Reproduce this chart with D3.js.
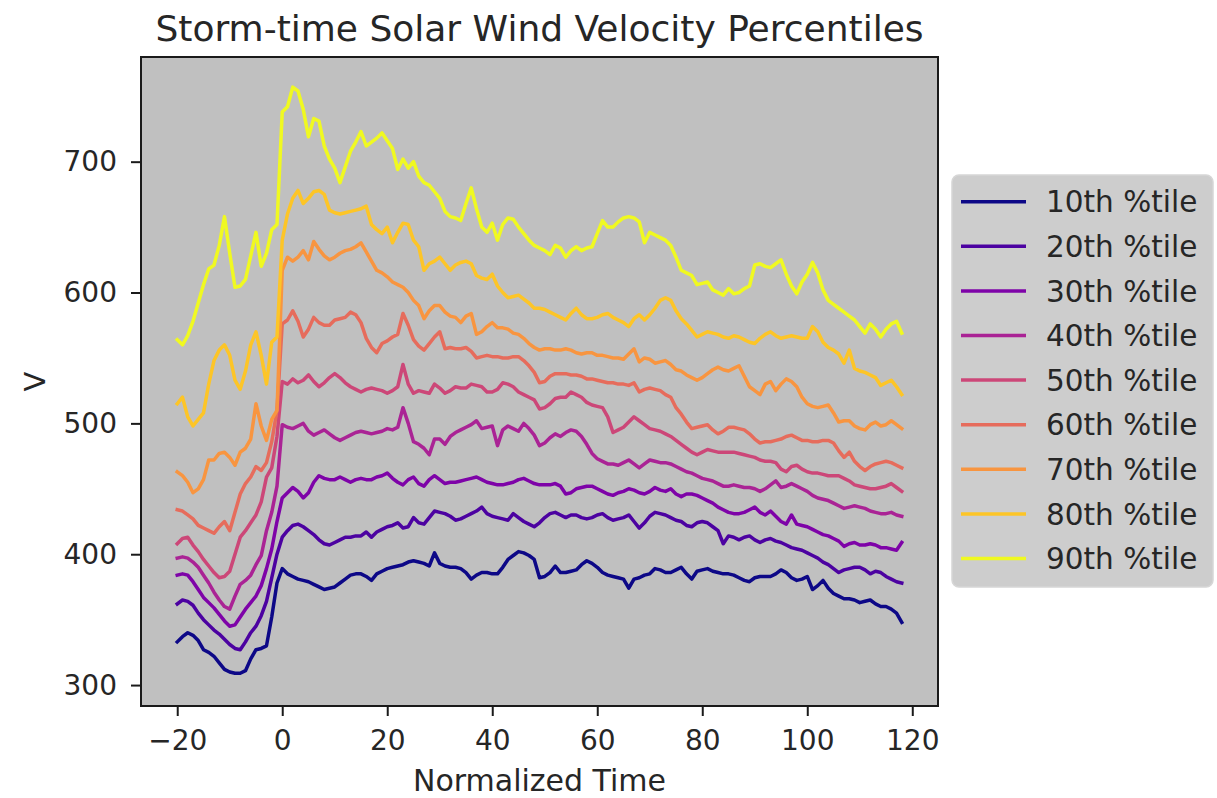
<!DOCTYPE html>
<html>
<head>
<meta charset="utf-8">
<script src="https://cdn.jsdelivr.net/npm/d3@7"></script>
<style>
  html, body { margin: 0; padding: 0; background: #ffffff; }
  svg { display: block; }
  text { font-family: "DejaVu Sans", sans-serif; fill: #262626; }
</style>
</head>
<body>
<svg id="chart" width="1217" height="798"></svg>
<script>
// ---------------- data ----------------
const tStart = -20; // normalized time of the first sample, step 1
const seriesNames = ["10th %tile","20th %tile","30th %tile","40th %tile","50th %tile","60th %tile","70th %tile","80th %tile","90th %tile"];
const xTicks = [-20, 0, 20, 40, 60, 80, 100, 120];
const yTicks = [300, 400, 500, 600, 700];

const p10 = [333,337,340,338,334,327,325,322,317,312,310,309,309,311,320,327,328,330,352,378,
389,385,383,381,380,379,377,375,373,374,375,378,381,384,385,385,383,380,385,387,
389,390,391,392,394,395,394,393,391,401,393,391,390,390,389,386,381,384,386,386,
385,385,390,396,399,402,401,399,396,382,383,386,391,386,386,387,388,392,395,393,
390,386,384,383,382,381,374,381,382,384,385,389,388,386,386,388,390,385,381,387,
388,389,387,386,385,385,384,382,380,379,382,383,383,383,385,388,386,382,380,381,
383,373,376,380,374,370,368,366,366,365,363,364,365,362,360,360,358,355,348];

const p20 = [362,365,364,361,355,350,346,342,339,335,331,328,327,333,340,345,353,364,382,400,
413,418,422,423,421,418,415,411,408,407,409,411,413,413,414,414,417,413,417,419,
421,422,424,420,421,428,424,423,428,433,432,431,429,426,427,429,431,433,436,431,
429,428,427,426,431,428,425,423,421,424,428,431,432,430,428,430,430,428,427,428,
430,431,428,426,427,428,430,425,420,424,429,432,431,430,428,426,425,422,421,424,
425,424,421,418,408,414,413,411,413,414,411,409,411,412,410,409,407,405,404,403,
401,399,397,394,392,389,386,388,389,390,390,388,385,387,386,383,381,379,378];

const p30 = [384,385,384,379,373,367,363,359,354,349,345,346,352,358,363,368,376,389,404,425,
443,447,451,448,443,447,455,460,458,457,457,459,457,455,457,458,457,457,459,460,
462,458,455,453,457,459,454,452,457,460,457,454,455,455,456,457,458,459,457,455,
454,453,453,454,455,457,458,456,454,453,453,453,454,452,446,447,450,451,452,452,
450,448,446,445,447,448,450,449,447,446,448,451,449,448,450,446,444,446,446,445,
443,441,439,436,434,432,431,431,432,434,436,432,430,433,429,425,423,430,423,422,
421,419,417,415,414,412,410,406,408,409,407,407,408,407,405,405,404,403,409];

const p40 = [397,398,397,394,390,384,378,371,365,360,358,368,377,380,384,392,399,418,432,452,
499,497,496,498,500,494,491,493,495,492,489,487,489,491,493,494,493,492,493,494,
496,495,497,512,500,486,484,481,476,488,488,484,490,493,495,497,499,502,496,497,
498,483,495,498,496,494,500,496,491,483,485,489,492,490,493,495,494,490,484,477,
473,471,469,469,468,470,472,469,466,469,472,471,470,470,469,467,465,463,462,460,
458,457,456,454,452,452,453,452,451,451,450,448,450,453,456,451,452,454,452,450,
448,445,443,442,441,439,437,435,436,437,436,435,433,432,431,431,432,430,429];

const p50 = [408,412,413,407,402,396,391,386,382,383,387,400,413,418,424,430,440,459,466,490,
532,530,534,531,533,537,532,528,531,535,538,535,531,528,526,524,526,527,526,525,
523,525,528,545,530,523,525,524,523,530,527,523,525,528,527,527,530,529,528,524,
524,526,531,530,528,524,522,520,518,511,512,515,519,520,520,524,522,520,516,514,
513,512,505,493,495,497,501,505,502,499,496,495,494,492,490,487,484,481,478,476,
478,480,479,478,478,478,478,477,476,475,474,472,471,471,470,465,463,467,468,465,
463,462,462,461,460,460,460,458,456,453,452,451,450,450,451,452,454,451,448];

const p60 = [434,433,430,427,422,420,418,416,421,425,418,432,446,454,459,467,464,470,486,510,
576,579,586,578,566,572,581,577,575,575,579,580,581,585,583,577,565,558,554,561,
563,566,568,584,575,564,559,556,561,566,570,557,558,557,557,558,555,550,551,552,
551,551,550,550,551,551,548,544,539,531,532,536,538,538,538,537,537,536,534,534,
533,532,531,531,530,530,529,531,524,526,527,526,525,522,520,512,507,501,496,497,
498,499,495,492,494,497,497,496,495,492,488,485,486,486,487,488,490,491,489,487,
487,486,486,487,487,485,479,474,478,471,467,464,467,469,470,471,470,468,466];

const p70 = [463,460,455,447,450,457,472,472,477,478,474,468,478,481,488,515,498,487,503,510,
617,627,624,627,632,625,639,633,628,625,627,630,632,633,635,638,631,624,617,615,
612,608,606,604,600,594,590,580,586,590,590,585,582,581,577,582,584,568,570,574,
577,573,573,572,569,568,565,561,558,556,557,557,556,556,557,556,554,553,554,554,
552,552,551,550,550,549,553,557,547,550,549,546,547,548,545,541,540,537,535,533,
535,538,541,543,541,540,542,544,536,528,525,522,530,532,525,530,534,532,528,520,
515,513,512,513,514,508,501,502,502,498,496,495,499,501,498,499,502,499,496];

const p80 = [515,520,505,498,503,508,530,548,556,560,552,533,526,540,560,570,552,530,562,566,
640,660,672,678,668,672,677,678,675,663,661,660,661,662,663,664,666,652,648,645,
650,638,646,653,652,640,635,617,622,624,627,622,617,621,623,624,622,613,611,610,
614,605,600,596,597,598,595,592,588,588,587,585,583,581,579,584,588,583,580,580,
581,583,584,581,579,577,574,580,583,579,583,588,594,596,594,586,580,576,571,566,
568,570,569,568,566,565,567,566,564,562,561,565,568,570,567,565,566,567,566,565,
565,574,570,562,558,556,553,546,556,542,540,539,537,535,529,531,533,528,522];

const p90 = [564,560,567,578,592,606,618,621,636,658,630,604,605,610,628,646,620,630,648,652,
738,742,757,754,740,719,733,731,712,702,695,684,696,708,715,723,712,715,718,722,
716,710,694,702,695,700,689,684,682,677,672,662,658,657,655,668,680,664,650,646,
653,640,652,657,656,650,645,640,636,634,632,629,636,634,627,632,635,632,634,635,
645,655,650,650,654,657,658,657,654,638,646,644,642,640,636,627,617,615,613,606,
607,608,602,600,598,603,599,600,603,605,621,622,620,619,622,625,614,605,599,608,
614,623,615,602,594,591,588,585,582,579,574,569,576,572,566,572,576,578,569];

const seriesValues = [p10, p20, p30, p40, p50, p60, p70, p80, p90];

// ---------------- layout ----------------
const svg = d3.select("#chart");
const plot = { left: 141, right: 938, top: 57, bottom: 706 };

const x = d3.scaleLinear().domain([-26.9, 124.9]).range([plot.left, plot.right]);
const y = d3.scaleLinear().domain([284, 780]).range([plot.bottom, plot.top]);
const color = i => d3.interpolatePlasma(i / (seriesNames.length - 1));

// plot background
svg.append("rect")
  .attr("x", plot.left).attr("y", plot.top)
  .attr("width", plot.right - plot.left).attr("height", plot.bottom - plot.top)
  .attr("fill", "#c0c0c0");

// lines
svg.append("clipPath").attr("id", "clip").append("rect")
  .attr("x", plot.left).attr("y", plot.top)
  .attr("width", plot.right - plot.left).attr("height", plot.bottom - plot.top);

const line = d3.line()
  .x((d, i) => x(tStart + i))
  .y(d => y(d));

const gLines = svg.append("g").attr("clip-path", "url(#clip)");
seriesValues.forEach((vals, i) => {
  gLines.append("path")
    .datum(vals)
    .attr("d", line)
    .attr("fill", "none")
    .attr("stroke", color(i))
    .attr("stroke-width", 3.5)
    .attr("stroke-linejoin", "round")
    .attr("stroke-linecap", "square");
});

// frame
svg.append("rect")
  .attr("x", plot.left).attr("y", plot.top)
  .attr("width", plot.right - plot.left).attr("height", plot.bottom - plot.top)
  .attr("fill", "none").attr("stroke", "#1a1a1a").attr("stroke-width", 2);

// axes
const xAxis = d3.axisBottom(x).tickValues(xTicks).tickSize(10).tickPadding(14)
  .tickFormat(d => d < 0 ? "\u2212" + Math.abs(d) : String(d));
const gx = svg.append("g").attr("transform", `translate(0,${plot.bottom})`).call(xAxis);
gx.select(".domain").remove();
gx.selectAll(".tick line").attr("stroke", "#1a1a1a").attr("stroke-width", 2);
gx.selectAll(".tick text").attr("font-size", 28).attr("fill", "#262626")
  .attr("font-family", "DejaVu Sans");

const yAxis = d3.axisLeft(y).tickValues(yTicks).tickSize(10).tickPadding(14);
const gy = svg.append("g").attr("transform", `translate(${plot.left},0)`).call(yAxis);
gy.select(".domain").remove();
gy.selectAll(".tick line").attr("stroke", "#1a1a1a").attr("stroke-width", 2);
gy.selectAll(".tick text").attr("font-size", 28).attr("fill", "#262626")
  .attr("font-family", "DejaVu Sans");

// titles
svg.append("text")
  .attr("x", (plot.left + plot.right) / 2).attr("y", 41)
  .attr("text-anchor", "middle").attr("font-size", 36)
  .text("Storm-time Solar Wind Velocity Percentiles");

svg.append("text")
  .attr("x", (plot.left + plot.right) / 2).attr("y", 791)
  .attr("text-anchor", "middle").attr("font-size", 30)
  .text("Normalized Time");

svg.append("text")
  .attr("transform", `translate(45,${(plot.top + plot.bottom) / 2}) rotate(-90)`)
  .attr("text-anchor", "middle").attr("font-size", 29)
  .text("V");

// legend
const leg = { x: 952, y: 175, w: 261, h: 412, row0: 201.7, step: 44.6 };
svg.append("rect")
  .attr("x", leg.x).attr("y", leg.y).attr("width", leg.w).attr("height", leg.h)
  .attr("rx", 7).attr("ry", 7)
  .attr("fill", "#cdcdcd").attr("stroke", "#d6d6d6").attr("stroke-width", 1.5);

seriesNames.forEach((name, i) => {
  const cy = leg.row0 + i * leg.step;
  svg.append("line")
    .attr("x1", 961).attr("x2", 1026).attr("y1", cy).attr("y2", cy)
    .attr("stroke", color(i)).attr("stroke-width", 3.5);
  svg.append("text")
    .attr("x", 1046).attr("y", cy).attr("dy", "0.36em")
    .attr("font-size", 29.5)
    .text(name);
});
</script>
</body>
</html>
